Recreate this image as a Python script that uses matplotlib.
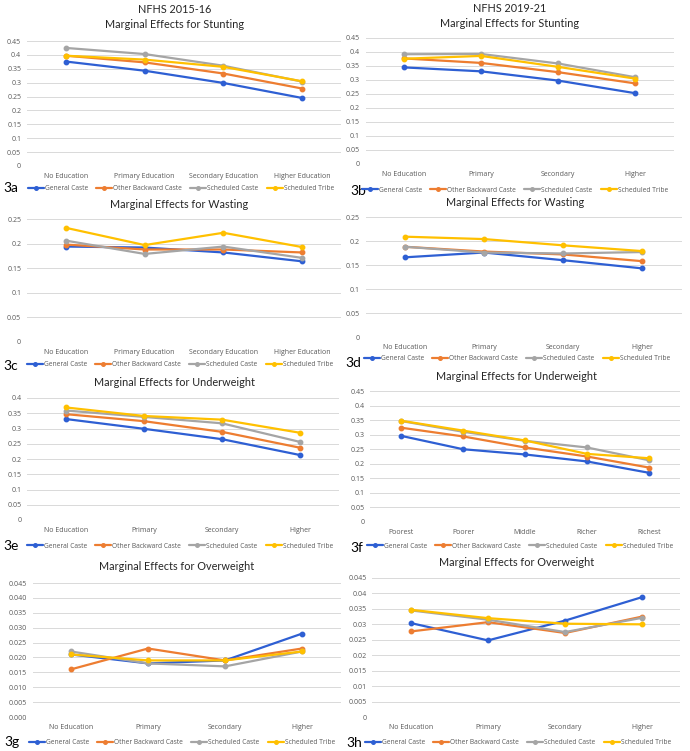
import matplotlib
matplotlib.use("Agg")
import matplotlib.pyplot as plt
from matplotlib.ticker import FixedLocator, FuncFormatter

plt.rcParams['font.family'] = ['Open Sans', 'DejaVu Sans']

series_names = ["General Caste", "Other Backward Caste", "Scheduled Caste", "Scheduled Tribe"]
colors = ["#2E5FD3", "#ED7D31", "#A5A5A5", "#FFC000"]

edu_long = ["No Education", "Primary Education", "Secondary Education", "Higher Education"]
edu_short = ["No Education", "Primary", "Secondary", "Higher"]
wealth = ["Poorest", "Poorer", "Middle", "Richer", "Richest"]

# 3a Stunting 2015-16
stunt_1516_gen = [0.376, 0.343, 0.299, 0.245]
stunt_1516_obc = [0.397, 0.373, 0.333, 0.279]
stunt_1516_sc = [0.425, 0.403, 0.361, 0.304]
stunt_1516_st = [0.397, 0.383, 0.357, 0.305]
# 3b Stunting 2019-21
stunt_1921_gen = [0.345, 0.331, 0.298, 0.253]
stunt_1921_obc = [0.377, 0.361, 0.328, 0.288]
stunt_1921_sc = [0.392, 0.393, 0.359, 0.310]
stunt_1921_st = [0.376, 0.386, 0.347, 0.305]
# 3c Wasting 2015-16
waste_1516_gen = [0.194, 0.192, 0.182, 0.164]
waste_1516_obc = [0.198, 0.188, 0.188, 0.182]
waste_1516_sc = [0.206, 0.179, 0.194, 0.171]
waste_1516_st = [0.232, 0.197, 0.222, 0.193]
# 3d Wasting 2019-21
waste_1921_gen = [0.166, 0.176, 0.160, 0.143]
waste_1921_obc = [0.188, 0.178, 0.172, 0.158]
waste_1921_sc = [0.188, 0.176, 0.174, 0.177]
waste_1921_st = [0.209, 0.204, 0.191, 0.179]
# 3e Underweight 2015-16
under_1516_gen = [0.331, 0.299, 0.265, 0.213]
under_1516_obc = [0.347, 0.324, 0.289, 0.237]
under_1516_sc = [0.359, 0.338, 0.317, 0.256]
under_1516_st = [0.369, 0.341, 0.329, 0.286]
# 3f Underweight by wealth 2019-21
under_1921_gen = [0.296, 0.250, 0.232, 0.208, 0.169]
under_1921_obc = [0.324, 0.294, 0.256, 0.225, 0.187]
under_1921_sc = [0.347, 0.310, 0.279, 0.256, 0.212]
under_1921_st = [0.348, 0.314, 0.280, 0.234, 0.219]
# 3g Overweight 2015-16
over_1516_gen = [0.021, 0.018, 0.019, 0.028]
over_1516_obc = [0.016, 0.023, 0.019, 0.023]
over_1516_sc = [0.022, 0.018, 0.017, 0.022]
over_1516_st = [0.021, 0.019, 0.019, 0.022]
# 3h Overweight 2019-21
over_1921_gen = [0.0304, 0.0248, 0.0312, 0.0388]
over_1921_obc = [0.0277, 0.0307, 0.0272, 0.0325]
over_1921_sc = [0.0345, 0.0315, 0.0275, 0.0321]
over_1921_st = [0.0347, 0.0320, 0.0302, 0.0300]

W, H = 690, 751
fig = plt.figure(figsize=(W / 100, H / 100), dpi=100)
fig.patch.set_facecolor("white")

TICK_C = "#595959"
TITLE_FONT = ['Lato', 'DejaVu Sans']


def px(x, y):
    return x / W, 1 - y / H


def panel(cats, data, left, right, ytop_px, y0_px, ymax, step, fmt,
          title, title_xy, label, label_xy, leg_xy):
    l, b = left / W, 1 - y0_px / H
    w, h = (right - left) / W, (y0_px - ytop_px) / H
    ax = fig.add_axes([l, b, w, h])
    n = len(cats)
    xs = list(range(n))
    lines = []
    for vals, c, name in zip(data, colors, series_names):
        ln, = ax.plot(xs, vals, color=c, lw=1.6, marker="o", ms=3.2,
                      label=name, zorder=3, solid_capstyle="round")
        lines.append(ln)
    ax.set_xlim(-0.5, n - 0.5)
    ax.set_ylim(0, ymax)
    nt = int(round(ymax / step))
    ticks = [i * step for i in range(nt + 1)]
    ax.yaxis.set_major_locator(FixedLocator(ticks))
    ax.yaxis.set_major_formatter(FuncFormatter(fmt))
    ax.set_xticks(xs)
    ax.set_xticklabels(cats)
    ax.grid(axis="y", color="#D9D9D9", lw=0.7, zorder=0)
    for s in ax.spines.values():
        s.set_visible(False)
    ax.tick_params(axis="both", length=0, labelsize=5.0, labelcolor=TICK_C)
    ax.tick_params(axis="x", pad=5)
    ax.tick_params(axis="y", pad=4)
    tx, ty = px(*title_xy)
    fig.text(tx, ty, title, ha="center", va="center", fontsize=7.8,
             color="#262626", linespacing=1.35, family=TITLE_FONT)
    lx, ly = px(*label_xy)
    fig.text(lx, ly, label, ha="left", va="center", fontsize=10,
             color="black", family=TITLE_FONT)
    gx, gy = px(*leg_xy)
    fig.legend(handles=lines, loc="center", bbox_to_anchor=(gx, gy),
               ncol=4, frameon=False, fontsize=4.8, handlelength=2.4,
               handletextpad=0.15, columnspacing=1.2, numpoints=1,
               labelcolor=TICK_C, borderaxespad=0, borderpad=0,
               markerscale=0.8)
    return ax


def fmt_g(v, pos):
    return "0" if abs(v) < 1e-12 else ("%g" % round(v, 4))


def fmt_3(v, pos):
    return "%.3f" % v


panel(edu_long, [stunt_1516_gen, stunt_1516_obc, stunt_1516_sc, stunt_1516_st],
      26.7, 341.3, 41, 166, 0.45, 0.05, fmt_g,
      "NFHS 2015-16\nMarginal Effects for Stunting", (175, 17),
      "3a", (3, 188), (181, 189))
panel(edu_short, [stunt_1921_gen, stunt_1921_obc, stunt_1921_sc, stunt_1921_st],
      365.5, 673.5, 38, 164, 0.45, 0.05, fmt_g,
      "NFHS 2019-21\nMarginal Effects for Stunting", (510, 16),
      "3b", (350, 191), (515, 190))
panel(edu_long, [waste_1516_gen, waste_1516_obc, waste_1516_sc, waste_1516_st],
      26.7, 341.3, 219, 342, 0.25, 0.05, fmt_g,
      "Marginal Effects for Wasting", (179, 204),
      "3c", (3, 366), (180, 365))
panel(edu_short, [waste_1921_gen, waste_1921_obc, waste_1921_sc, waste_1921_st],
      365.5, 681.5, 217, 337, 0.25, 0.05, fmt_g,
      "Marginal Effects for Wasting", (515, 202),
      "3d", (345, 363), (517, 359))
panel(edu_short, [under_1516_gen, under_1516_obc, under_1516_sc, under_1516_st],
      27, 339, 398, 520, 0.4, 0.05, fmt_g,
      "Marginal Effects for Underweight", (175, 382),
      "3e", (3, 546), (180, 546))
panel(wealth, [under_1921_gen, under_1921_obc, under_1921_sc, under_1921_st],
      370, 680, 391, 522, 0.45, 0.05, fmt_g,
      "Marginal Effects for Underweight", (517, 377),
      "3f", (350, 548), (520, 546))
panel(edu_short, [over_1516_gen, over_1516_obc, over_1516_sc, over_1516_st],
      32.5, 340.5, 583, 717, 0.045, 0.005, fmt_3,
      "Marginal Effects for Overweight", (177, 566),
      "3g", (4, 742), (182, 743))
panel(edu_short, [over_1921_gen, over_1921_obc, over_1921_sc, over_1921_st],
      372.5, 680.5, 578, 717, 0.045, 0.005, fmt_g,
      "Marginal Effects for Overweight", (517, 562),
      "3h", (346, 743), (518, 743))

fig.savefig("out.png", dpi=100, facecolor="white")
